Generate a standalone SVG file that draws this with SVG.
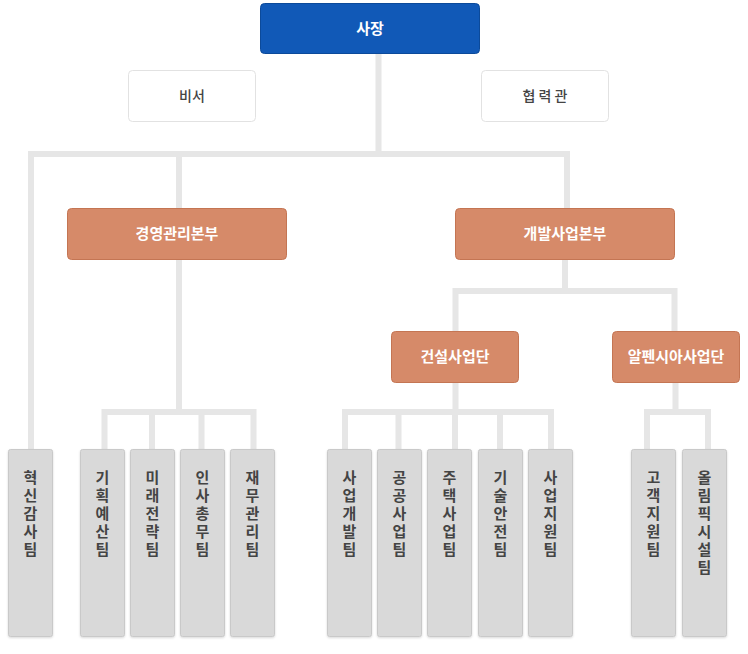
<svg xmlns="http://www.w3.org/2000/svg" width="748" height="654" viewBox="0 0 748 654">
<defs>
<filter id="sh" x="-20%" y="-20%" width="140%" height="140%"><feDropShadow dx="0" dy="1" stdDeviation="1" flood-color="#000" flood-opacity="0.15"/></filter>
<style>
.ln{fill:none;stroke:#e6e6e6;stroke-width:6;stroke-linecap:square;stroke-linejoin:miter}
.top{fill:#1159b7;stroke:#0c4a9a;stroke-width:1}
.aux{fill:#fff;stroke:#e2e2e2;stroke-width:1}
.org{fill:#d68a69;stroke:#c47553;stroke-width:1}
.team{fill:#d9d9d9;stroke:#c9c9c9;stroke-width:1;filter:url(#sh)}
.tw{font-family:"Noto Sans CJK KR","Noto Sans",sans-serif;font-size:15px;font-weight:bold;fill:#fff;text-anchor:middle}
.td{font-family:"Noto Sans CJK KR","Noto Sans",sans-serif;font-size:14px;font-weight:500;fill:#444;text-anchor:middle}
.tv{font-family:"Noto Sans CJK KR","Noto Sans",sans-serif;font-size:15px;font-weight:bold;fill:#444;text-anchor:start;writing-mode:vertical-rl;text-orientation:upright;letter-spacing:3px}
</style>
</defs>
<g id="connectors">
<path class="ln" d="M378.5 54V154M31 154H567M31 154V449M179 154V208M179 259V412M104.5 412H253.5M104.5 412V449M152 412V449M201.5 412V449M253.5 412V449"/>
<path class="ln" d="M567 154V208M565 260V291M455.5 291H674.5M455.5 291V331M674.5 291V331M455.5 383V412M345 412H551M345 412V449M398.5 412V449M455 412V449M500 412V449M551 412V449M675.5 383V412M647 412H708M647 412V449M708 412V449"/>
</g>
<g id="n-ceo"><rect class="top" x="260.5" y="3.5" width="219" height="50" rx="4"/><text class="tw" x="370" y="34">사장</text></g>
<g id="n-secretary"><rect class="aux" x="128.5" y="70.5" width="127" height="51" rx="4"/><text class="td" x="192" y="101">비서</text></g>
<g id="n-coop"><rect class="aux" x="481.5" y="70.5" width="127" height="51" rx="4"/><text class="td" x="545" y="101">협 력 관</text></g>
<g id="n-mgmt"><rect class="org" x="67.5" y="208.5" width="219" height="51" rx="4"/><text class="tw" x="177" y="239">경영관리본부</text></g>
<g id="n-dev"><rect class="org" x="455.5" y="208.5" width="219" height="51" rx="4"/><text class="tw" x="565" y="239">개발사업본부</text></g>
<g id="n-const"><rect class="org" x="391.5" y="331.5" width="127" height="51" rx="4"/><text class="tw" x="455" y="362">건설사업단</text></g>
<g id="n-alpensia"><rect class="org" x="612.5" y="331.5" width="127" height="51" rx="4"/><text class="tw" x="676" y="362">알펜시아사업단</text></g>
<g id="n-t1"><rect class="team" x="8.5" y="449.5" width="44" height="187" rx="2"/><text class="tv" x="30.5" y="470">혁신감사팀</text></g>
<g id="n-t2"><rect class="team" x="80.5" y="449.5" width="44" height="187" rx="2"/><text class="tv" x="102.5" y="470">기획예산팀</text></g>
<g id="n-t3"><rect class="team" x="130.5" y="449.5" width="44" height="187" rx="2"/><text class="tv" x="152.5" y="470">미래전략팀</text></g>
<g id="n-t4"><rect class="team" x="180.5" y="449.5" width="44" height="187" rx="2"/><text class="tv" x="202.5" y="470">인사총무팀</text></g>
<g id="n-t5"><rect class="team" x="230.5" y="449.5" width="44" height="187" rx="2"/><text class="tv" x="252.5" y="470">재무관리팀</text></g>
<g id="n-t6"><rect class="team" x="327.5" y="449.5" width="44" height="187" rx="2"/><text class="tv" x="349.5" y="470">사업개발팀</text></g>
<g id="n-t7"><rect class="team" x="377.5" y="449.5" width="44" height="187" rx="2"/><text class="tv" x="399.5" y="470">공공사업팀</text></g>
<g id="n-t8"><rect class="team" x="427.5" y="449.5" width="44" height="187" rx="2"/><text class="tv" x="449.5" y="470">주택사업팀</text></g>
<g id="n-t9"><rect class="team" x="478.5" y="449.5" width="44" height="187" rx="2"/><text class="tv" x="500.5" y="470">기술안전팀</text></g>
<g id="n-t10"><rect class="team" x="528.5" y="449.5" width="44" height="187" rx="2"/><text class="tv" x="550.5" y="470">사업지원팀</text></g>
<g id="n-t11"><rect class="team" x="631.5" y="449.5" width="44" height="187" rx="2"/><text class="tv" x="653.5" y="470">고객지원팀</text></g>
<g id="n-t12"><rect class="team" x="682.5" y="449.5" width="44" height="187" rx="2"/><text class="tv" x="704.5" y="470">올림픽시설팀</text></g>
</svg>
